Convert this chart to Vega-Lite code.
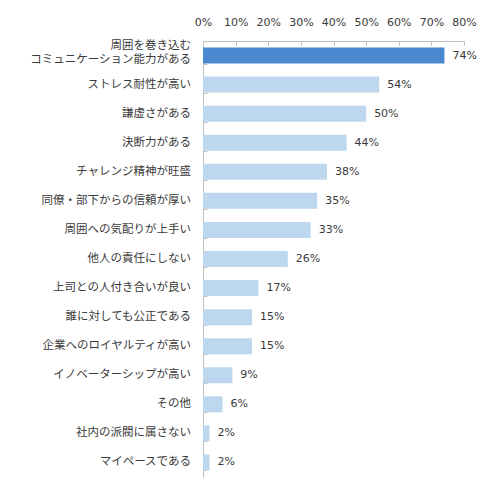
{
  "$schema": "https://vega.github.io/schema/vega-lite/v6.json",
  "width": 261,
  "height": 436,
  "autosize": {"type": "none"},
  "padding": {"left": 203, "top": 41, "right": 26, "bottom": 9},
  "background": "white",
  "config": {
    "view": {"stroke": null},
    "font": "Noto Sans CJK JP"
  },
  "data": {
    "values": [
      {"item": "周囲を巻き込む|コミュニケーション能力がある", "value": 0.74, "top": "yes"},
      {"item": "ストレス耐性が高い", "value": 0.54, "top": "no"},
      {"item": "謙虚さがある", "value": 0.50, "top": "no"},
      {"item": "決断力がある", "value": 0.44, "top": "no"},
      {"item": "チャレンジ精神が旺盛", "value": 0.38, "top": "no"},
      {"item": "同僚・部下からの信頼が厚い", "value": 0.35, "top": "no"},
      {"item": "周囲への気配りが上手い", "value": 0.33, "top": "no"},
      {"item": "他人の責任にしない", "value": 0.26, "top": "no"},
      {"item": "上司との人付き合いが良い", "value": 0.17, "top": "no"},
      {"item": "誰に対しても公正である", "value": 0.15, "top": "no"},
      {"item": "企業へのロイヤルティが高い", "value": 0.15, "top": "no"},
      {"item": "イノベーターシップが高い", "value": 0.09, "top": "no"},
      {"item": "その他", "value": 0.06, "top": "no"},
      {"item": "社内の派閥に属さない", "value": 0.02, "top": "no"},
      {"item": "マイペースである", "value": 0.02, "top": "no"}
    ]
  },
  "encoding": {
    "y": {
      "field": "item",
      "type": "nominal",
      "sort": null,
      "title": null,
      "scale": {"paddingInner": 0.45, "paddingOuter": 0.225},
      "axis": {
        "labels": false,
        "tickBand": "extent",
        "tickSize": -4,
        "tickColor": "#bfbfbf",
        "domainColor": "#bfbfbf"
      }
    },
    "x": {
      "field": "value",
      "type": "quantitative",
      "title": null,
      "scale": {"domain": [0, 0.8]},
      "axis": {
        "orient": "top",
        "format": ".0%",
        "values": [0, 0.1, 0.2, 0.3, 0.4, 0.5, 0.6, 0.7, 0.8],
        "grid": false,
        "labelOverlap": false,
        "labelFlush": false,
        "labelFontSize": 11,
        "labelColor": "#3a3a3a",
        "labelFont": "DejaVu Sans",
        "tickSize": -4,
        "tickColor": "#bfbfbf",
        "domainColor": "#bfbfbf",
        "labelPadding": 18
      }
    }
  },
  "layer": [
    {
      "mark": {"type": "bar"},
      "encoding": {
        "color": {
          "field": "top",
          "type": "nominal",
          "scale": {"domain": ["yes", "no"], "range": ["#4a89cf", "#bdd7ee"]},
          "legend": null
        }
      }
    },
    {
      "mark": {"type": "text", "align": "left", "dx": 8, "fontSize": 11, "color": "#3a3a3a", "font": "DejaVu Sans"},
      "encoding": {
        "text": {"field": "value", "type": "quantitative", "format": ".0%"}
      }
    },
    {
      "transform": [{"filter": "indexof(datum.item, '|') < 0"}],
      "mark": {"type": "text", "align": "right", "dx": -12, "fontSize": 11.5, "color": "#3a3a3a"},
      "encoding": {
        "x": {"datum": 0, "type": "quantitative"},
        "text": {"field": "item", "type": "nominal"}
      }
    },
    {
      "transform": [{"filter": "indexof(datum.item, '|') >= 0"}],
      "mark": {"type": "text", "align": "right", "dx": -12, "dy": -10, "lineBreak": "|", "lineHeight": 14, "fontSize": 11.5, "color": "#3a3a3a"},
      "encoding": {
        "x": {"datum": 0, "type": "quantitative"},
        "text": {"field": "item", "type": "nominal"}
      }
    }
  ]
}
